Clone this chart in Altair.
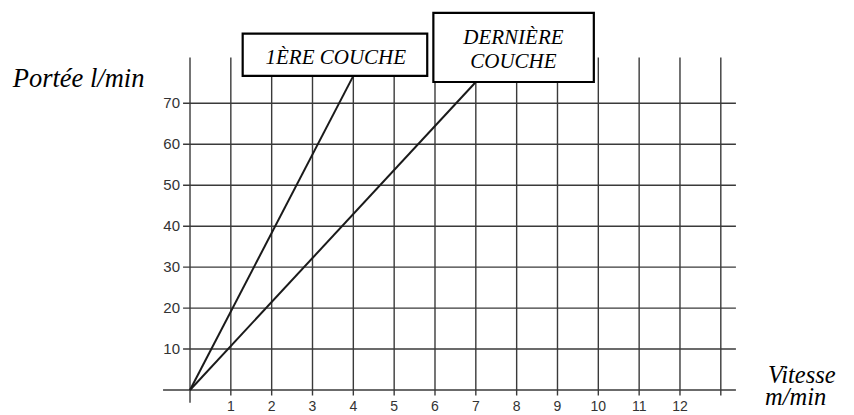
import altair as alt
import pandas as pd

# ---------------- data ----------------
x_ticks = [1, 2, 3, 4, 5, 6, 7, 8, 9, 10, 11, 12]
y_ticks = [10, 20, 30, 40, 50, 60, 70]
grid_x = [0, 1, 2, 3, 4, 5, 6, 7, 8, 9, 10, 11, 12, 13]
grid_y = [0, 10, 20, 30, 40, 50, 60, 70]

premiere_x = [0, 4]
premiere_y = [0, 76.7]
derniere_x = [0, 7]
derniere_y = [0, 75.2]

# ---------------- scales ----------------
W, H = 836, 406
KY = 4.0957
YTOP = 93.27
xs = alt.Scale(domain=[-4.4575, 16.017], nice=False, zero=False)
ys = alt.Scale(domain=[YTOP - H / KY, YTOP], nice=False, zero=False)

def X(f="x"):
    return alt.X(f, type="quantitative", scale=xs, axis=None)

def Y(f="y"):
    return alt.Y(f, type="quantitative", scale=ys, axis=None)

GRID = "#3a3a3a"

# horizontal grid lines
hdf = pd.DataFrame({"y": grid_y})
hdf["x"] = [-0.66 if v == 0 else -0.17 for v in grid_y]
hdf["x2"] = 13.37
hrules = alt.Chart(hdf).mark_rule(color=GRID, strokeWidth=1.4).encode(
    x=X("x"), x2="x2:Q", y=Y("y"))

# vertical grid lines
vdf = pd.DataFrame({"x": grid_x})
vdf["y"] = [-3.1 if v == 0 else -1.34 for v in grid_x]
vdf["y2"] = 81.2
vrules = alt.Chart(vdf).mark_rule(color=GRID, strokeWidth=1.4).encode(
    x=X("x"), y=Y("y"), y2="y2:Q")

# series lines
ldf = pd.DataFrame({
    "x": premiere_x + derniere_x,
    "y": premiere_y + derniere_y,
    "s": ["1ère"] * 2 + ["dernière"] * 2,
})
lines = alt.Chart(ldf).mark_line(color="#1a1a1a", strokeWidth=2).encode(
    x=X("x"), y=Y("y"), detail="s:N")

# label boxes (data coordinates)
bdf = pd.DataFrame({
    "x": [1.29, 5.96], "x2": [5.81, 9.89],
    "y": [76.7, 75.2], "y2": [87.0, 92.1],
})
boxes = alt.Chart(bdf).mark_rect(fill="white", stroke="black", strokeWidth=2.2).encode(
    x=X("x"), x2="x2:Q", y=Y("y"), y2="y2:Q")

tdf = pd.DataFrame({
    "x": [3.57, 7.92, 7.92],
    "y": [79.6, 84.6, 78.5],
    "t": ["1ÈRE COUCHE", "DERNIÈRE", "COUCHE"],
})
box_text = alt.Chart(tdf).mark_text(
    font="Liberation Serif", fontStyle="italic", fontSize=21,
    align="center", baseline="alphabetic", color="black").encode(
    x=X("x"), y=Y("y"), text="t:N")

# tick labels
ytl = pd.DataFrame({"y": y_ticks, "x": -0.245})
ylabels = alt.Chart(ytl).mark_text(
    font="Liberation Sans", fontSize=15, align="right", baseline="middle",
    color="#333333").encode(x=X("x"), y=Y("y"), text="y:Q")

xtl = pd.DataFrame({"x": x_ticks, "y": -4.08})
xlabels = alt.Chart(xtl).mark_text(
    font="Liberation Sans", fontSize=14, align="center", baseline="middle",
    color="#333333").encode(x=X("x"), y=Y("y"), text="x:Q")

# axis titles
tt = pd.DataFrame({"a": [0]})
def title(txt, px, py, size):
    return alt.Chart(tt).mark_text(
        text=txt, font="Liberation Serif", fontStyle="italic", fontSize=size,
        align="left", baseline="alphabetic", color="black").encode(
        x=alt.value(px), y=alt.value(py))

t1 = title("Portée l/min", 4.7, 78.7, 26.5)
t2 = title("Vitesse", 760, 375.3, 24.5)
t3 = title("m/min", 757, 397, 24.5)

chart = alt.layer(
    hrules, vrules, lines, boxes, box_text, ylabels, xlabels, t1, t2, t3
).properties(
    width=W, height=H, padding=0,
    autosize=alt.AutoSizeParams(type="none"),
).configure_view(stroke=None)

chart.save("out.html", embed_options={"renderer": "svg", "actions": False})
